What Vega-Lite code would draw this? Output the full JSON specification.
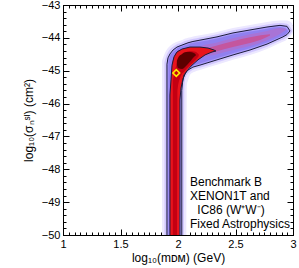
{
  "$schema": "https://vega.github.io/schema/vega-lite/v6.json",
  "width": 230,
  "height": 230,
  "autosize": {"type": "none"},
  "padding": {"left": 63, "top": 5, "right": 6, "bottom": 33},
  "config": {
    "view": {"stroke": "black", "strokeWidth": 1},
    "font": "Liberation Sans",
    "axis": {
      "labelFont": "Liberation Sans", "titleFont": "Liberation Sans",
      "labelFontSize": 11, "titleFontSize": 12, "titleFontWeight": "normal",
      "labelColor": "black", "titleColor": "black", "domainColor": "black", "tickColor": "black",
      "grid": false, "labelFlush": false, "labelOverlap": false
    }
  },
  "datasets": {
    "bands": [
      {"g": "h5", "x": 1.861, "y": -44.70, "y2": -50},
      {"g": "h5", "x": 1.882, "y": -44.50, "y2": -50},
      {"g": "h5", "x": 1.899, "y": -44.38, "y2": -50},
      {"g": "h5", "x": 1.935, "y": -44.23, "y2": -50},
      {"g": "h5", "x": 1.980, "y": -44.13, "y2": -50},
      {"g": "h5", "x": 2.030, "y": -44.07, "y2": -50},
      {"g": "h5", "x": 2.076, "y": -44.01, "y2": -50},
      {"g": "h5", "x": 2.0761, "y": -44.01, "y2": -45.45},
      {"g": "h5", "x": 2.087, "y": -44.00, "y2": -45.30},
      {"g": "h5", "x": 2.110, "y": -43.98, "y2": -45.10},
      {"g": "h5", "x": 2.140, "y": -43.95, "y2": -45.04},
      {"g": "h5", "x": 2.191, "y": -43.92, "y2": -44.98},
      {"g": "h5", "x": 2.339, "y": -43.82, "y2": -44.82},
      {"g": "h5", "x": 2.478, "y": -43.70, "y2": -44.67},
      {"g": "h5", "x": 2.626, "y": -43.61, "y2": -44.52},
      {"g": "h5", "x": 2.774, "y": -43.52, "y2": -44.34},
      {"g": "h5", "x": 2.887, "y": -43.47, "y2": -44.16},
      {"g": "h5", "x": 2.948, "y": -43.47, "y2": -44.05},
      {"g": "h5", "x": 2.990, "y": -43.55, "y2": -43.90},
      {"g": "h5", "x": 3.010, "y": -43.75, "y2": -43.78},

      {"g": "h2", "x": 1.882, "y": -44.75, "y2": -50},
      {"g": "h2", "x": 1.898, "y": -44.55, "y2": -50},
      {"g": "h2", "x": 1.914, "y": -44.43, "y2": -50},
      {"g": "h2", "x": 1.946, "y": -44.30, "y2": -50},
      {"g": "h2", "x": 1.986, "y": -44.20, "y2": -50},
      {"g": "h2", "x": 2.033, "y": -44.14, "y2": -50},
      {"g": "h2", "x": 2.055, "y": -44.10, "y2": -50},
      {"g": "h2", "x": 2.0551, "y": -44.10, "y2": -45.55},
      {"g": "h2", "x": 2.065, "y": -44.09, "y2": -45.22},
      {"g": "h2", "x": 2.098, "y": -44.06, "y2": -45.05},
      {"g": "h2", "x": 2.135, "y": -44.03, "y2": -44.96},
      {"g": "h2", "x": 2.191, "y": -43.99, "y2": -44.91},
      {"g": "h2", "x": 2.339, "y": -43.89, "y2": -44.75},
      {"g": "h2", "x": 2.478, "y": -43.77, "y2": -44.60},
      {"g": "h2", "x": 2.626, "y": -43.68, "y2": -44.45},
      {"g": "h2", "x": 2.774, "y": -43.59, "y2": -44.27},
      {"g": "h2", "x": 2.887, "y": -43.545, "y2": -44.09},
      {"g": "h2", "x": 2.948, "y": -43.57, "y2": -43.98},
      {"g": "h2", "x": 2.996, "y": -43.79, "y2": -43.79},

      {"g": "o", "x": 1.904, "y": -44.80, "y2": -50},
      {"g": "o", "x": 1.913, "y": -44.61, "y2": -50},
      {"g": "o", "x": 1.930, "y": -44.49, "y2": -50},
      {"g": "o", "x": 1.957, "y": -44.37, "y2": -50},
      {"g": "o", "x": 1.991, "y": -44.28, "y2": -50},
      {"g": "o", "x": 2.033, "y": -44.22, "y2": -50},
      {"g": "o", "x": 2.0331, "y": -44.22, "y2": -45.60},
      {"g": "o", "x": 2.040, "y": -44.21, "y2": -45.35},
      {"g": "o", "x": 2.052, "y": -44.19, "y2": -45.13},
      {"g": "o", "x": 2.087, "y": -44.15, "y2": -44.98},
      {"g": "o", "x": 2.130, "y": -44.11, "y2": -44.89},
      {"g": "o", "x": 2.191, "y": -44.07, "y2": -44.83},
      {"g": "o", "x": 2.339, "y": -43.97, "y2": -44.67},
      {"g": "o", "x": 2.478, "y": -43.85, "y2": -44.52},
      {"g": "o", "x": 2.626, "y": -43.76, "y2": -44.37},
      {"g": "o", "x": 2.774, "y": -43.67, "y2": -44.19},
      {"g": "o", "x": 2.887, "y": -43.62, "y2": -44.01},
      {"g": "o", "x": 2.948, "y": -43.66, "y2": -43.90},
      {"g": "o", "x": 2.974, "y": -43.79, "y2": -43.79},

      {"g": "o2", "x": 1.917, "y": -44.72, "y2": -50},
      {"g": "o2", "x": 1.930, "y": -44.56, "y2": -50},
      {"g": "o2", "x": 1.957, "y": -44.43, "y2": -50},
      {"g": "o2", "x": 1.991, "y": -44.33, "y2": -50},
      {"g": "o2", "x": 2.020, "y": -44.28, "y2": -50},
      {"g": "o2", "x": 2.0201, "y": -44.28, "y2": -45.65},
      {"g": "o2", "x": 2.030, "y": -44.27, "y2": -45.40},
      {"g": "o2", "x": 2.045, "y": -44.25, "y2": -45.13},
      {"g": "o2", "x": 2.087, "y": -44.20, "y2": -44.94},
      {"g": "o2", "x": 2.130, "y": -44.16, "y2": -44.85},
      {"g": "o2", "x": 2.191, "y": -44.12, "y2": -44.78},
      {"g": "o2", "x": 2.339, "y": -44.02, "y2": -44.62},
      {"g": "o2", "x": 2.478, "y": -43.90, "y2": -44.47},
      {"g": "o2", "x": 2.626, "y": -43.81, "y2": -44.32},
      {"g": "o2", "x": 2.774, "y": -43.72, "y2": -44.14},
      {"g": "o2", "x": 2.887, "y": -43.67, "y2": -43.97},
      {"g": "o2", "x": 2.940, "y": -43.72, "y2": -43.88},
      {"g": "o2", "x": 2.960, "y": -43.80, "y2": -43.80},

      {"g": "p1", "x": 2.148, "y": -44.37, "y2": -44.73},
      {"g": "p1", "x": 2.191, "y": -44.27, "y2": -44.63},
      {"g": "p1", "x": 2.339, "y": -44.14, "y2": -44.50},
      {"g": "p1", "x": 2.478, "y": -44.01, "y2": -44.37},
      {"g": "p1", "x": 2.626, "y": -43.89, "y2": -44.25},
      {"g": "p1", "x": 2.774, "y": -43.79, "y2": -44.07},
      {"g": "p1", "x": 2.887, "y": -43.70, "y2": -43.88},
      {"g": "p1", "x": 2.939, "y": -43.72, "y2": -43.76},

      {"g": "p2", "x": 2.191, "y": -44.36, "y2": -44.54},
      {"g": "p2", "x": 2.339, "y": -44.23, "y2": -44.41},
      {"g": "p2", "x": 2.478, "y": -44.10, "y2": -44.28},
      {"g": "p2", "x": 2.626, "y": -43.98, "y2": -44.16},
      {"g": "p2", "x": 2.720, "y": -43.92, "y2": -44.06},
      {"g": "p2", "x": 2.800, "y": -43.89, "y2": -43.93},

      {"g": "r", "x": 1.930, "y": -45.74, "y2": -50},
      {"g": "r", "x": 1.939, "y": -45.28, "y2": -50},
      {"g": "r", "x": 1.948, "y": -44.83, "y2": -50},
      {"g": "r", "x": 1.965, "y": -44.58, "y2": -50},
      {"g": "r", "x": 1.991, "y": -44.43, "y2": -50},
      {"g": "r", "x": 2.017, "y": -44.37, "y2": -50},
      {"g": "r", "x": 2.0171, "y": -44.37, "y2": -45.89},
      {"g": "r", "x": 2.026, "y": -44.35, "y2": -45.53},
      {"g": "r", "x": 2.035, "y": -44.34, "y2": -45.40},
      {"g": "r", "x": 2.043, "y": -44.33, "y2": -45.25},
      {"g": "r", "x": 2.070, "y": -44.31, "y2": -45.04},
      {"g": "r", "x": 2.113, "y": -44.28, "y2": -44.86},
      {"g": "r", "x": 2.174, "y": -44.28, "y2": -44.67},
      {"g": "r", "x": 2.191, "y": -44.28, "y2": -44.63},
      {"g": "r", "x": 2.235, "y": -44.30, "y2": -44.52},
      {"g": "r", "x": 2.261, "y": -44.31, "y2": -44.48},
      {"g": "r", "x": 2.296, "y": -44.35, "y2": -44.43},
      {"g": "r", "x": 2.313, "y": -44.37, "y2": -44.42},
      {"g": "r", "x": 2.330, "y": -44.40, "y2": -44.40},

      {"g": "r2", "x": 1.955, "y": -45.30, "y2": -50},
      {"g": "r2", "x": 1.975, "y": -45.00, "y2": -50},
      {"g": "r2", "x": 1.995, "y": -44.75, "y2": -50},
      {"g": "r2", "x": 1.9951, "y": -44.75, "y2": -45.60},
      {"g": "r2", "x": 2.020, "y": -44.60, "y2": -45.20},
      {"g": "r2", "x": 2.060, "y": -44.45, "y2": -45.00},
      {"g": "r2", "x": 2.100, "y": -44.40, "y2": -44.85},
      {"g": "r2", "x": 2.150, "y": -44.42, "y2": -44.68},
      {"g": "r2", "x": 2.180, "y": -44.50, "y2": -44.56},

      {"g": "d", "x": 1.990, "y": -44.70, "y2": -44.80},
      {"g": "d", "x": 2.000, "y": -44.61, "y2": -44.92},
      {"g": "d", "x": 2.035, "y": -44.49, "y2": -44.95},
      {"g": "d", "x": 2.070, "y": -44.43, "y2": -44.86},
      {"g": "d", "x": 2.104, "y": -44.43, "y2": -44.73},
      {"g": "d", "x": 2.139, "y": -44.46, "y2": -44.58},
      {"g": "d", "x": 2.157, "y": -44.52, "y2": -44.53}
    ],
    "contours": [
      {"g": "outer", "o": 0, "x": 1.904, "y": -50},
      {"g": "outer", "o": 1, "x": 1.904, "y": -44.80},
      {"g": "outer", "o": 2, "x": 1.913, "y": -44.61},
      {"g": "outer", "o": 3, "x": 1.930, "y": -44.49},
      {"g": "outer", "o": 4, "x": 1.957, "y": -44.37},
      {"g": "outer", "o": 5, "x": 1.991, "y": -44.28},
      {"g": "outer", "o": 6, "x": 2.035, "y": -44.22},
      {"g": "outer", "o": 7, "x": 2.087, "y": -44.15},
      {"g": "outer", "o": 8, "x": 2.130, "y": -44.11},
      {"g": "outer", "o": 9, "x": 2.191, "y": -44.07},
      {"g": "outer", "o": 10, "x": 2.339, "y": -43.97},
      {"g": "outer", "o": 11, "x": 2.478, "y": -43.85},
      {"g": "outer", "o": 12, "x": 2.626, "y": -43.76},
      {"g": "outer", "o": 13, "x": 2.774, "y": -43.67},
      {"g": "outer", "o": 14, "x": 2.887, "y": -43.62},
      {"g": "outer", "o": 15, "x": 2.948, "y": -43.65},
      {"g": "outer", "o": 16, "x": 2.974, "y": -43.79},
      {"g": "outer", "o": 17, "x": 2.948, "y": -43.90},
      {"g": "outer", "o": 18, "x": 2.913, "y": -43.97},
      {"g": "outer", "o": 19, "x": 2.774, "y": -44.19},
      {"g": "outer", "o": 20, "x": 2.626, "y": -44.37},
      {"g": "outer", "o": 21, "x": 2.478, "y": -44.52},
      {"g": "outer", "o": 22, "x": 2.339, "y": -44.67},
      {"g": "outer", "o": 23, "x": 2.191, "y": -44.83},
      {"g": "outer", "o": 24, "x": 2.130, "y": -44.89},
      {"g": "outer", "o": 25, "x": 2.087, "y": -44.98},
      {"g": "outer", "o": 26, "x": 2.052, "y": -45.13},
      {"g": "outer", "o": 27, "x": 2.040, "y": -45.35},
      {"g": "outer", "o": 28, "x": 2.033, "y": -45.60},
      {"g": "outer", "o": 29, "x": 2.033, "y": -50},

      {"g": "inner", "o": 0, "x": 1.930, "y": -50},
      {"g": "inner", "o": 1, "x": 1.930, "y": -45.74},
      {"g": "inner", "o": 2, "x": 1.939, "y": -45.28},
      {"g": "inner", "o": 3, "x": 1.948, "y": -44.83},
      {"g": "inner", "o": 4, "x": 1.965, "y": -44.58},
      {"g": "inner", "o": 5, "x": 1.991, "y": -44.43},
      {"g": "inner", "o": 6, "x": 2.035, "y": -44.34},
      {"g": "inner", "o": 7, "x": 2.104, "y": -44.28},
      {"g": "inner", "o": 8, "x": 2.191, "y": -44.28},
      {"g": "inner", "o": 9, "x": 2.261, "y": -44.31},
      {"g": "inner", "o": 10, "x": 2.313, "y": -44.37},
      {"g": "inner", "o": 11, "x": 2.330, "y": -44.40},
      {"g": "inner", "o": 12, "x": 2.296, "y": -44.43},
      {"g": "inner", "o": 13, "x": 2.235, "y": -44.52},
      {"g": "inner", "o": 14, "x": 2.174, "y": -44.67},
      {"g": "inner", "o": 15, "x": 2.113, "y": -44.86},
      {"g": "inner", "o": 16, "x": 2.070, "y": -45.04},
      {"g": "inner", "o": 17, "x": 2.043, "y": -45.25},
      {"g": "inner", "o": 18, "x": 2.026, "y": -45.53},
      {"g": "inner", "o": 19, "x": 2.017, "y": -45.89},
      {"g": "inner", "o": 20, "x": 2.017, "y": -50}
    ],
    "best": [{"x": 1.985, "y": -45.07}],
    "labels": [
      {"x": 2.104, "y": -48.39, "t": "Benchmark B"},
      {"x": 2.104, "y": -48.81, "t": "XENON1T and"},
      {"x": 2.168, "y": -49.24, "t": "IC86 (W⁺W⁻)"},
      {"x": 2.104, "y": -49.67, "t": "Fixed Astrophysics"}
    ]
  },
  "data": {"name": "bands"},
  "encoding": {
    "x": {"field": "x", "type": "quantitative", "scale": {"domain": [1, 3], "nice": false, "zero": false}, "axis": null},
    "y": {"field": "y", "type": "quantitative", "scale": {"domain": [-50, -43], "nice": false, "zero": false}, "axis": null}
  },
  "layer": [
    {
      "transform": [{"filter": "datum.g === 'h5'"}],
      "mark": {"type": "area", "color": "#ece8ff", "clip": true, "interpolate": "monotone"},
      "encoding": {
        "x": {"field": "x", "type": "quantitative", "scale": {"domain": [1, 3], "nice": false, "zero": false},
          "axis": {"orient": "bottom", "title": "log₁₀(mᴅᴍ) (GeV)", "values": [1,1.05,1.1,1.15,1.2,1.25,1.3,1.35,1.4,1.45,1.5,1.55,1.6,1.65,1.7,1.75,1.8,1.85,1.9,1.95,2,2.05,2.1,2.15,2.2,2.25,2.3,2.35,2.4,2.45,2.5,2.55,2.6,2.65,2.7,2.75,2.8,2.85,2.9,2.95,3],
            "tickSize": {"condition": {"test": "abs(datum.value*2-round(datum.value*2))<0.01", "value": -6}, "value": -3},
            "labelExpr": "abs(datum.value*2-round(datum.value*2))<0.01 ? format(datum.value, '~g') : ''",
            "labelPadding": 9, "titlePadding": 0}},
        "y": {"field": "y", "type": "quantitative", "scale": {"domain": [-50, -43], "nice": false, "zero": false},
          "axis": {"orient": "left", "title": "log₁₀(σₙˢᴵ) (cm²)", "values": [-50,-49.8,-49.6,-49.4,-49.2,-49,-48.8,-48.6,-48.4,-48.2,-48,-47.8,-47.6,-47.4,-47.2,-47,-46.8,-46.6,-46.4,-46.2,-46,-45.8,-45.6,-45.4,-45.2,-45,-44.8,-44.6,-44.4,-44.2,-44,-43.8,-43.6,-43.4,-43.2,-43],
            "tickSize": {"condition": {"test": "abs(datum.value-round(datum.value))<0.01", "value": -6}, "value": -3},
            "labelExpr": "abs(datum.value-round(datum.value))<0.01 ? format(datum.value, '~g') : ''",
            "labelPadding": 9, "titlePadding": 6}},
        "y2": {"field": "y2"}
      }
    },
    {
      "transform": [{"filter": "datum.g === 'h2'"}],
      "mark": {"type": "area", "color": "#d2c8ff", "clip": true, "interpolate": "monotone"},
      "encoding": {
        "x": {"field": "x", "type": "quantitative", "scale": {"domain": [1, 3], "nice": false, "zero": false},
          "axis": {"orient": "top", "title": null, "labels": false, "values": [1,1.05,1.1,1.15,1.2,1.25,1.3,1.35,1.4,1.45,1.5,1.55,1.6,1.65,1.7,1.75,1.8,1.85,1.9,1.95,2,2.05,2.1,2.15,2.2,2.25,2.3,2.35,2.4,2.45,2.5,2.55,2.6,2.65,2.7,2.75,2.8,2.85,2.9,2.95,3],
            "tickSize": {"condition": {"test": "abs(datum.value*2-round(datum.value*2))<0.01", "value": -6}, "value": -3}}},
        "y": {"field": "y", "type": "quantitative", "scale": {"domain": [-50, -43], "nice": false, "zero": false},
          "axis": {"orient": "right", "title": null, "labels": false, "values": [-50,-49.8,-49.6,-49.4,-49.2,-49,-48.8,-48.6,-48.4,-48.2,-48,-47.8,-47.6,-47.4,-47.2,-47,-46.8,-46.6,-46.4,-46.2,-46,-45.8,-45.6,-45.4,-45.2,-45,-44.8,-44.6,-44.4,-44.2,-44,-43.8,-43.6,-43.4,-43.2,-43],
            "tickSize": {"condition": {"test": "abs(datum.value-round(datum.value))<0.01", "value": -6}, "value": -3}}},
        "y2": {"field": "y2"}
      }
    },
    {
      "transform": [{"filter": "datum.g === 'o'"}],
      "mark": {"type": "area", "color": "#aa9cfa", "clip": true, "interpolate": "monotone"},
      "encoding": {"y2": {"field": "y2"}}
    },
    {
      "transform": [{"filter": "datum.g === 'o2'"}],
      "mark": {"type": "area", "color": "#9080f0", "clip": true, "interpolate": "monotone"},
      "encoding": {"y2": {"field": "y2"}}
    },
    {
      "transform": [{"filter": "datum.g === 'p1'"}],
      "mark": {"type": "area", "color": "#a874d6", "clip": true, "interpolate": "monotone"},
      "encoding": {"y2": {"field": "y2"}}
    },
    {
      "transform": [{"filter": "datum.g === 'p2'"}],
      "mark": {"type": "area", "color": "#c4569e", "clip": true, "interpolate": "monotone"},
      "encoding": {"y2": {"field": "y2"}}
    },
    {
      "transform": [{"filter": "datum.g === 'r'"}],
      "mark": {"type": "area", "color": "#e8141c", "clip": true, "interpolate": "monotone"},
      "encoding": {"y2": {"field": "y2"}}
    },
    {
      "transform": [{"filter": "datum.g === 'r2'"}],
      "mark": {"type": "area", "color": "#c40012", "clip": true, "interpolate": "monotone"},
      "encoding": {"y2": {"field": "y2"}}
    },
    {
      "transform": [{"filter": "datum.g === 'd'"}],
      "mark": {"type": "area", "color": "#5c0000", "clip": true, "interpolate": "monotone"},
      "encoding": {"y2": {"field": "y2"}}
    },
    {
      "data": {"name": "contours"},
      "mark": {"type": "line", "color": "#1c1c3c", "strokeWidth": 1, "clip": true},
      "encoding": {"detail": {"field": "g"}, "order": {"field": "o", "type": "quantitative"}}
    },
    {
      "data": {"name": "best"},
      "mark": {"type": "point", "shape": "diamond", "filled": false, "stroke": "#ffee00", "strokeWidth": 1.6, "size": 45, "opacity": 1},
      "encoding": {}
    },
    {
      "data": {"name": "labels"},
      "mark": {"type": "text", "align": "left", "baseline": "middle", "fontSize": 12, "font": "Liberation Sans", "color": "black"},
      "encoding": {"text": {"field": "t"}}
    }
  ],
  "resolve": {"axis": {"x": "independent", "y": "independent"}}
}
